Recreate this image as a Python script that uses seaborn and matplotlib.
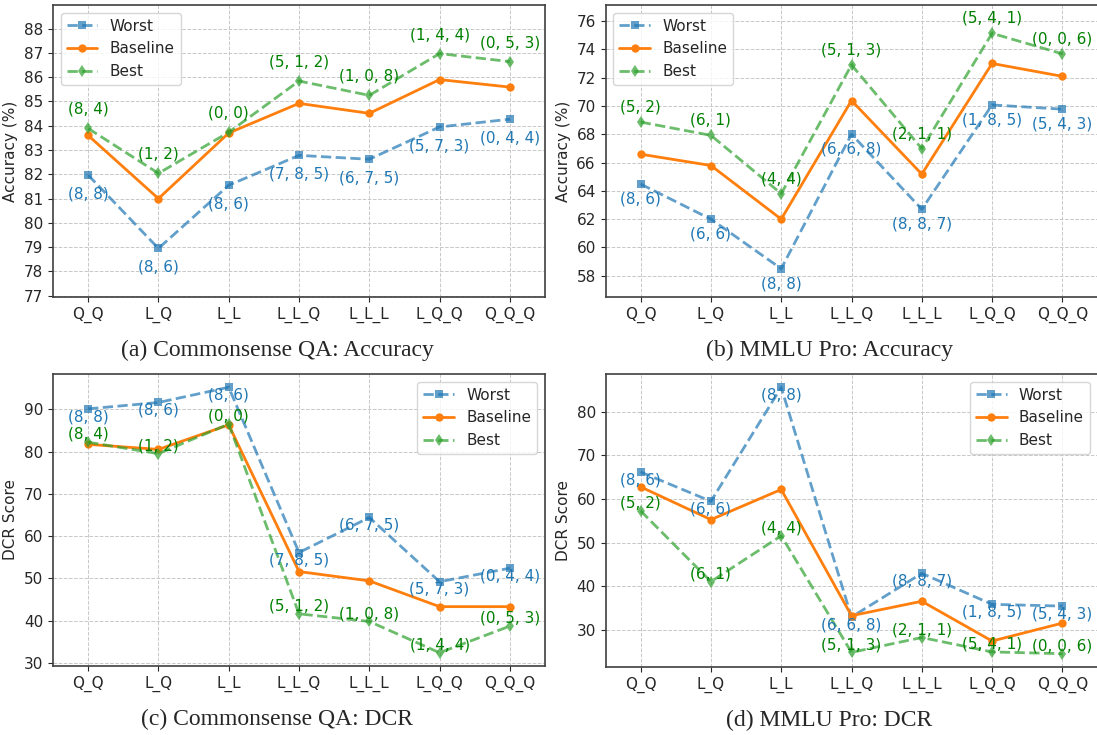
import matplotlib
matplotlib.use('Agg')
import matplotlib.pyplot as plt
from matplotlib.ticker import MultipleLocator
import seaborn as sns

configs = ['Q_Q', 'L_Q', 'L_L', 'L_L_Q', 'L_L_L', 'L_Q_Q', 'Q_Q_Q']

# commonsense QA
csqa_acc_worst = [81.97, 78.95, 81.55, 82.78, 82.62, 83.95, 84.27]
csqa_acc_base = [83.6, 81.0, 83.7, 84.92, 84.51, 85.9, 85.59]
csqa_acc_best = [83.89, 82.04, 83.73, 85.84, 85.25, 86.97, 86.64]
csqa_dcr_worst = [90.1, 91.6, 95.2, 56.1, 64.4, 49.2, 52.4]
csqa_dcr_base = [81.7, 80.5, 86.3, 51.6, 49.4, 43.3, 43.3]
csqa_dcr_best = [82.2, 79.5, 86.5, 41.6, 39.8, 32.4, 38.7]
csqa_worst_lbl = ['(8, 8)', '(8, 6)', '(8, 6)', '(7, 8, 5)', '(6, 7, 5)', '(5, 7, 3)', '(0, 4, 4)']
csqa_best_lbl = ['(8, 4)', '(1, 2)', '(0, 0)', '(5, 1, 2)', '(1, 0, 8)', '(1, 4, 4)', '(0, 5, 3)']

# MMLU pro
mmlu_acc_worst = [64.48, 62.0, 58.5, 68.0, 62.7, 70.07, 69.77]
mmlu_acc_base = [66.59, 65.79, 62.0, 70.38, 65.18, 73.0, 72.09]
mmlu_acc_best = [68.86, 67.92, 63.8, 72.9, 66.98, 75.13, 73.68]
mmlu_dcr_worst = [66.2, 59.5, 85.6, 33.0, 43.0, 35.9, 35.5]
mmlu_dcr_base = [62.8, 55.3, 62.2, 33.3, 36.6, 27.5, 31.6]
mmlu_dcr_best = [57.3, 41.1, 51.6, 24.9, 28.3, 25.0, 24.6]
mmlu_worst_lbl = ['(8, 6)', '(6, 6)', '(8, 8)', '(6, 6, 8)', '(8, 8, 7)', '(1, 8, 5)', '(5, 4, 3)']
mmlu_best_lbl = ['(5, 2)', '(6, 1)', '(4, 4)', '(5, 1, 3)', '(2, 1, 1)', '(5, 4, 1)', '(0, 0, 6)']

sns.set_style('ticks')
plt.rcParams['font.family'] = ['DejaVu Sans']

fig = plt.figure(figsize=(10.97, 7.35), dpi=100)
W, H = 1097, 735


def rect(l, t, r, b):
    return [l / W, 1 - b / H, (r - l) / W, (b - t) / H]


panels = [
    (rect(53, 5, 545, 297), csqa_acc_worst, csqa_acc_base, csqa_acc_best, csqa_worst_lbl, csqa_best_lbl,
     'Accuracy (%)', '(a) Commonsense QA: Accuracy', 'upper left', 1, 13.7, (76.95, 88.97)),
    (rect(605.5, 5, 1097.5, 297), mmlu_acc_worst, mmlu_acc_base, mmlu_acc_best, mmlu_worst_lbl, mmlu_best_lbl,
     'Accuracy (%)', '(b) MMLU Pro: Accuracy', 'upper left', 2, 10.8, (56.5, 77.13)),
    (rect(53, 374, 545, 666), csqa_dcr_worst, csqa_dcr_base, csqa_dcr_best, csqa_worst_lbl, csqa_best_lbl,
     'DCR Score', '(c) Commonsense QA: DCR', 'upper right', 10, 5.6, None),
    (rect(605.5, 374, 1097.5, 667), mmlu_dcr_worst, mmlu_dcr_base, mmlu_dcr_best, mmlu_worst_lbl, mmlu_best_lbl,
     'DCR Score', '(d) MMLU Pro: DCR', 'upper right', 10, 5.6, None),
]

for pos, worst, base, best, wl, bl, ylab, cap, loc, step, off, ylim in panels:
    ax = fig.add_axes(pos)
    sns.lineplot(x=configs, y=worst, ax=ax, color='tab:blue', alpha=0.7, linestyle='--',
                 marker='s', markersize=6, markeredgewidth=0, linewidth=2, label='Worst')
    sns.lineplot(x=configs, y=base, ax=ax, color='tab:orange', linestyle='-',
                 marker='o', markersize=6, markeredgewidth=0, linewidth=2, label='Baseline')
    sns.lineplot(x=configs, y=best, ax=ax, color='tab:green', alpha=0.7, linestyle='--',
                 marker='d', markersize=6, markeredgewidth=0, linewidth=2, label='Best')
    for i in range(len(configs)):
        ax.annotate(wl[i], (i, worst[i]), xytext=(0, -off), textcoords='offset points',
                    ha='center', va='center', color='tab:blue', fontsize=11)
        ax.annotate(bl[i], (i, best[i]), xytext=(0, off), textcoords='offset points',
                    ha='center', va='center', color='green', fontsize=11)
    ax.set_xlim(-0.5, 6.5)
    if ylim:
        ax.set_ylim(*ylim)
    ax.yaxis.set_major_locator(MultipleLocator(step))
    ax.grid(True, linestyle='--', color='#c8c8c8', linewidth=0.7)
    ax.set_axisbelow(True)
    ax.tick_params(labelsize=11)
    ax.set_ylabel(ylab, fontsize=11)
    ax.set_xlabel('')
    ax.legend(loc=loc, fontsize=11)
    for s in ax.spines.values():
        s.set_linewidth(1.2)
        s.set_color('.25')
    cx = (pos[0] * W) + 224
    cy = H - (pos[1] * H) + 53
    fig.text(cx / W, 1 - cy / H, cap, ha='center', va='center',
             fontsize=17, family='Liberation Serif')

fig.savefig('out.png', dpi=100)
